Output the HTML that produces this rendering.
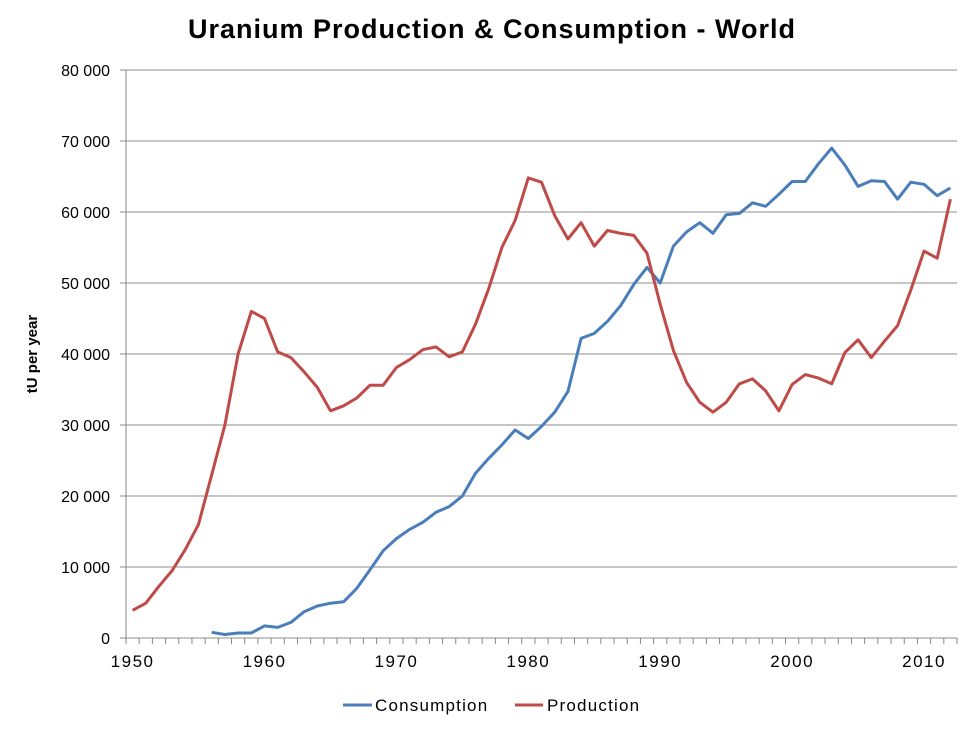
<!DOCTYPE html>
<html><head><meta charset="utf-8"><style>
body{margin:0;background:#fff;}
svg{display:block;font-family:"Liberation Sans",sans-serif;}
</style></head><body>
<svg id="chart" width="980" height="734">
<text x="492" y="38" text-anchor="middle" font-size="27" font-weight="bold" letter-spacing="1">Uranium Production &amp; Consumption - World</text>
<text transform="translate(37,354) rotate(-90)" text-anchor="middle" font-size="15" font-weight="bold">tU per year</text>
<g id="grid"></g><g id="axes"></g><g id="series"></g>
<g>
<line x1="343" y1="705" x2="372" y2="705" stroke="#4a7ebb" stroke-width="3"/>
<text x="375" y="711" font-size="17" letter-spacing="1.2">Consumption</text>
<line x1="515" y1="705" x2="543" y2="705" stroke="#be4b48" stroke-width="3"/>
<text x="547" y="711" font-size="17" letter-spacing="1.2">Production</text>
</g>
</svg>
<script>
const startYear = 1950;
const production = [3.9,4.9,7.3,9.5,12.5,16,23,30,40,46,45,40.3,39.5,37.5,35.3,32,32.7,33.8,35.6,35.6,38.1,39.2,40.6,41,39.6,40.3,44.2,49.2,55,58.8,64.8,64.2,59.5,56.2,58.5,55.2,57.4,57,56.7,54.2,47,40.5,36,33.2,31.8,33.2,35.8,36.5,34.8,32,35.7,37.1,36.6,35.8,40.2,42,39.5,41.8,44,49,54.5,53.5,61.8];
const consumptionStart = 1956;
const consumption = [0.8,0.5,0.7,0.7,1.7,1.5,2.2,3.7,4.5,4.9,5.1,7,9.6,12.3,14,15.3,16.3,17.7,18.5,20,23.2,25.3,27.2,29.3,28.1,29.8,31.8,34.7,42.2,42.9,44.6,46.8,49.8,52.2,50,55.2,57.2,58.5,57,59.6,59.8,61.3,60.8,62.5,64.3,64.3,66.8,69,66.6,63.6,64.4,64.3,61.8,64.2,63.9,62.3,63.4];
const yTicks = [0,10,20,30,40,50,60,70,80];
const yTickLabels = ["0","10 000","20 000","30 000","40 000","50 000","60 000","70 000","80 000"];
const xLabels = [1950,1960,1970,1980,1990,2000,2010];

const NS="http://www.w3.org/2000/svg";
const L=126,R=957,T=70,B=638,nCat=production.length,step=(R-L)/nCat;
const xs=yr=>L+(yr-startYear+0.5)*step;
const ys=v=>B-(v/80)*(B-T);
function mk(tag,attrs,parent){const e=document.createElementNS(NS,tag);for(const k in attrs)e.setAttribute(k,attrs[k]);document.getElementById(parent).appendChild(e);return e;}
yTicks.forEach((v,i)=>{
  const g=mk('line',{x1:L-6,x2:R,y1:ys(v),y2:ys(v),stroke:'#8c8c8c','stroke-width':1},'grid');
  
  
  const t=mk('text',{x:L-16,y:ys(v)+6,'text-anchor':'end','font-size':16},'axes');
  t.textContent=yTickLabels[i];
  
  
});
const ax=mk('line',{x1:L,x2:L,y1:T,y2:B,stroke:'#868686'},'axes');


for(let i=0;i<=nCat;i++){
  const tk=mk('line',{x1:L+i*step,x2:L+i*step,y1:B,y2:B+6,stroke:'#868686'},'axes');
  
  
}
xLabels.forEach(y=>{
  const t=mk('text',{x:xs(y),y:B+29,'text-anchor':'middle','font-size':17,'letter-spacing':1.5},'axes');
  t.textContent=y;
  
  
});
function line(data,start,color,name){
  const pts=data.map((v,i)=>xs(start+i).toFixed(1)+','+ys(v).toFixed(1)).join(' ');
  const p=mk('polyline',{points:pts,fill:'none',stroke:color,'stroke-width':3,'stroke-linejoin':'round'},'series');
  
  
}
line(consumption,consumptionStart,'#4a7ebb','consumption-line');
line(production,startYear,'#be4b48','production-line');
</script>
</body></html>
